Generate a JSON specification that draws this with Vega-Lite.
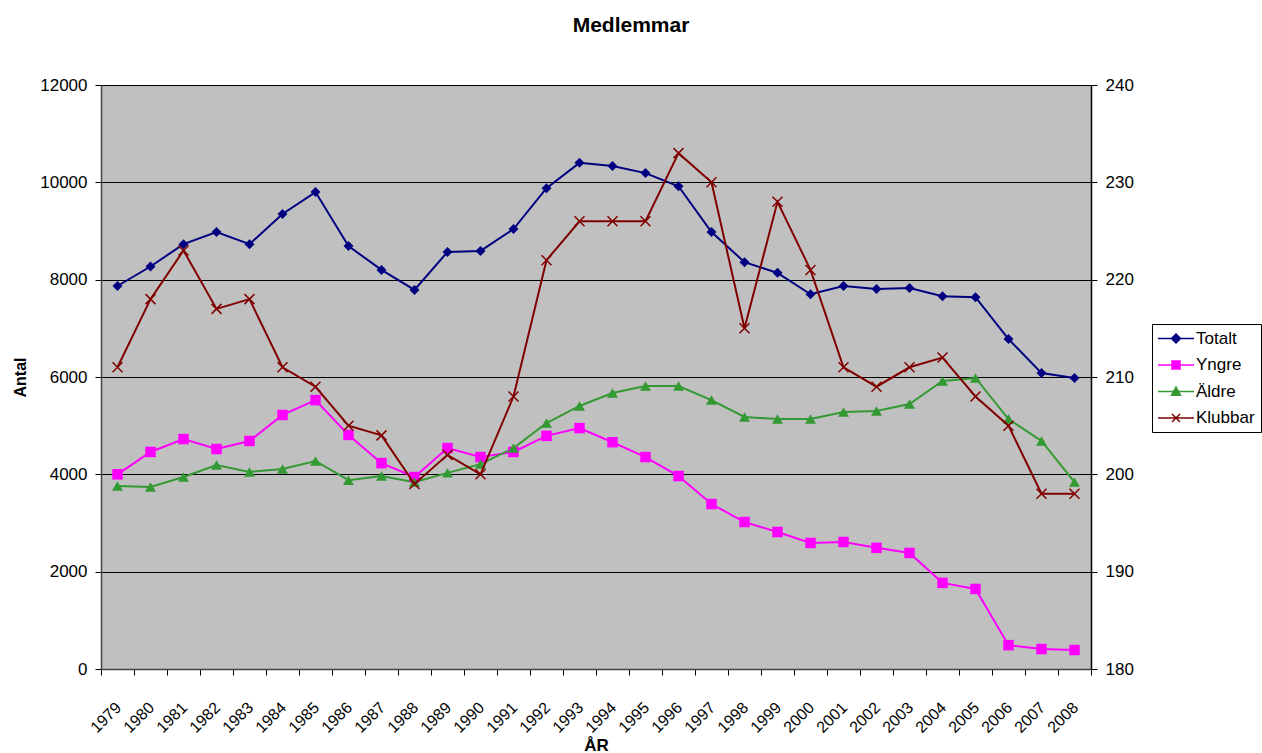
{
  "$schema": "https://vega.github.io/schema/vega-lite/v6.json",
  "autosize": {"type": "none"},
  "padding": {"left": 101, "top": 85, "right": 171, "bottom": 84},
  "width": 990,
  "height": 584,
  "background": "#ffffff",
  "config": {
    "view": {"fill": "#C0C0C0", "stroke": null},
    "font": "Liberation Sans",
    "axis": {"labelFont": "Liberation Sans", "titleFont": "Liberation Sans", "labelColor": "#000000", "titleColor": "#000000", "tickColor": "#000000"}
  },
  "title": {"text": "Medlemmar", "fontSize": 21, "fontWeight": "bold", "font": "Liberation Sans", "color": "#000000", "anchor": "middle", "dx": 35, "offset": 40, "frame": "group"},
  "data": {"values": [
    {"year": 1979, "series": "Totalt", "value": 7870}, {"year": 1980, "series": "Totalt", "value": 8270}, {"year": 1981, "series": "Totalt", "value": 8730}, {"year": 1982, "series": "Totalt", "value": 8980}, {"year": 1983, "series": "Totalt", "value": 8730}, {"year": 1984, "series": "Totalt", "value": 9350}, {"year": 1985, "series": "Totalt", "value": 9800}, {"year": 1986, "series": "Totalt", "value": 8690}, {"year": 1987, "series": "Totalt", "value": 8200}, {"year": 1988, "series": "Totalt", "value": 7790}, {"year": 1989, "series": "Totalt", "value": 8570}, {"year": 1990, "series": "Totalt", "value": 8590}, {"year": 1991, "series": "Totalt", "value": 9040}, {"year": 1992, "series": "Totalt", "value": 9880}, {"year": 1993, "series": "Totalt", "value": 10400}, {"year": 1994, "series": "Totalt", "value": 10335}, {"year": 1995, "series": "Totalt", "value": 10190}, {"year": 1996, "series": "Totalt", "value": 9920}, {"year": 1997, "series": "Totalt", "value": 8980}, {"year": 1998, "series": "Totalt", "value": 8360}, {"year": 1999, "series": "Totalt", "value": 8140}, {"year": 2000, "series": "Totalt", "value": 7700}, {"year": 2001, "series": "Totalt", "value": 7870}, {"year": 2002, "series": "Totalt", "value": 7810}, {"year": 2003, "series": "Totalt", "value": 7830}, {"year": 2004, "series": "Totalt", "value": 7660}, {"year": 2005, "series": "Totalt", "value": 7640}, {"year": 2006, "series": "Totalt", "value": 6780}, {"year": 2007, "series": "Totalt", "value": 6080}, {"year": 2008, "series": "Totalt", "value": 5980},
    {"year": 1979, "series": "Yngre", "value": 4000}, {"year": 1980, "series": "Yngre", "value": 4460}, {"year": 1981, "series": "Yngre", "value": 4725}, {"year": 1982, "series": "Yngre", "value": 4520}, {"year": 1983, "series": "Yngre", "value": 4685}, {"year": 1984, "series": "Yngre", "value": 5220}, {"year": 1985, "series": "Yngre", "value": 5525}, {"year": 1986, "series": "Yngre", "value": 4810}, {"year": 1987, "series": "Yngre", "value": 4230}, {"year": 1988, "series": "Yngre", "value": 3945}, {"year": 1989, "series": "Yngre", "value": 4540}, {"year": 1990, "series": "Yngre", "value": 4355}, {"year": 1991, "series": "Yngre", "value": 4460}, {"year": 1992, "series": "Yngre", "value": 4790}, {"year": 1993, "series": "Yngre", "value": 4950}, {"year": 1994, "series": "Yngre", "value": 4660}, {"year": 1995, "series": "Yngre", "value": 4355}, {"year": 1996, "series": "Yngre", "value": 3965}, {"year": 1997, "series": "Yngre", "value": 3390}, {"year": 1998, "series": "Yngre", "value": 3020}, {"year": 1999, "series": "Yngre", "value": 2815}, {"year": 2000, "series": "Yngre", "value": 2590}, {"year": 2001, "series": "Yngre", "value": 2610}, {"year": 2002, "series": "Yngre", "value": 2490}, {"year": 2003, "series": "Yngre", "value": 2385}, {"year": 2004, "series": "Yngre", "value": 1770}, {"year": 2005, "series": "Yngre", "value": 1645}, {"year": 2006, "series": "Yngre", "value": 490}, {"year": 2007, "series": "Yngre", "value": 410}, {"year": 2008, "series": "Yngre", "value": 390},
    {"year": 1979, "series": "Äldre", "value": 3760}, {"year": 1980, "series": "Äldre", "value": 3740}, {"year": 1981, "series": "Äldre", "value": 3945}, {"year": 1982, "series": "Äldre", "value": 4190}, {"year": 1983, "series": "Äldre", "value": 4050}, {"year": 1984, "series": "Äldre", "value": 4110}, {"year": 1985, "series": "Äldre", "value": 4275}, {"year": 1986, "series": "Äldre", "value": 3880}, {"year": 1987, "series": "Äldre", "value": 3965}, {"year": 1988, "series": "Äldre", "value": 3840}, {"year": 1989, "series": "Äldre", "value": 4030}, {"year": 1990, "series": "Äldre", "value": 4210}, {"year": 1991, "series": "Äldre", "value": 4540}, {"year": 1992, "series": "Äldre", "value": 5055}, {"year": 1993, "series": "Äldre", "value": 5405}, {"year": 1994, "series": "Äldre", "value": 5670}, {"year": 1995, "series": "Äldre", "value": 5815}, {"year": 1996, "series": "Äldre", "value": 5815}, {"year": 1997, "series": "Äldre", "value": 5525}, {"year": 1998, "series": "Äldre", "value": 5180}, {"year": 1999, "series": "Äldre", "value": 5135}, {"year": 2000, "series": "Äldre", "value": 5135}, {"year": 2001, "series": "Äldre", "value": 5280}, {"year": 2002, "series": "Äldre", "value": 5300}, {"year": 2003, "series": "Äldre", "value": 5445}, {"year": 2004, "series": "Äldre", "value": 5920}, {"year": 2005, "series": "Äldre", "value": 5980}, {"year": 2006, "series": "Äldre", "value": 5135}, {"year": 2007, "series": "Äldre", "value": 4685}, {"year": 2008, "series": "Äldre", "value": 3840},
    {"year": 1979, "series": "Klubbar", "value": 211}, {"year": 1980, "series": "Klubbar", "value": 218}, {"year": 1981, "series": "Klubbar", "value": 223}, {"year": 1982, "series": "Klubbar", "value": 217}, {"year": 1983, "series": "Klubbar", "value": 218}, {"year": 1984, "series": "Klubbar", "value": 211}, {"year": 1985, "series": "Klubbar", "value": 209}, {"year": 1986, "series": "Klubbar", "value": 205}, {"year": 1987, "series": "Klubbar", "value": 204}, {"year": 1988, "series": "Klubbar", "value": 199}, {"year": 1989, "series": "Klubbar", "value": 202}, {"year": 1990, "series": "Klubbar", "value": 200}, {"year": 1991, "series": "Klubbar", "value": 208}, {"year": 1992, "series": "Klubbar", "value": 222}, {"year": 1993, "series": "Klubbar", "value": 226}, {"year": 1994, "series": "Klubbar", "value": 226}, {"year": 1995, "series": "Klubbar", "value": 226}, {"year": 1996, "series": "Klubbar", "value": 233}, {"year": 1997, "series": "Klubbar", "value": 230}, {"year": 1998, "series": "Klubbar", "value": 215}, {"year": 1999, "series": "Klubbar", "value": 228}, {"year": 2000, "series": "Klubbar", "value": 221}, {"year": 2001, "series": "Klubbar", "value": 211}, {"year": 2002, "series": "Klubbar", "value": 209}, {"year": 2003, "series": "Klubbar", "value": 211}, {"year": 2004, "series": "Klubbar", "value": 212}, {"year": 2005, "series": "Klubbar", "value": 208}, {"year": 2006, "series": "Klubbar", "value": 205}, {"year": 2007, "series": "Klubbar", "value": 198}, {"year": 2008, "series": "Klubbar", "value": 198}
  ]},
  "encoding": {
    "x": {
      "field": "year", "type": "ordinal", "bandPosition": 0.5,
      "scale": {"type": "band", "paddingInner": 0, "paddingOuter": 0},
      "axis": {
        "title": "ÅR", "titleFontSize": 17, "titleFontWeight": "bold", "titleBaseline": "alphabetic", "titleY": 81,
        "labelAngle": -45, "labelAlign": "right", "labelBaseline": "top", "labelFontSize": 16, "labelPadding": 24, "labelOffset": -5,
        "tickBand": "extent", "tickSize": 6, "domainColor": "#444444", "domainWidth": 1.5, "grid": false
      }
    },
    "color": {"field": "series", "type": "nominal", "scale": {"domain": ["Totalt", "Yngre", "Äldre", "Klubbar"], "range": ["#000080", "#FF00FF", "#339933", "#800000"]},
      "legend": {"title": null, "orient": "none", "legendX": 1051, "legendY": 239, "fillColor": "#ffffff", "strokeColor": "#000000", "padding": 6, "labelFontSize": 17, "labelColor": "#000000", "symbolStrokeWidth": 1.5, "rowPadding": 8.5, "symbolSize": 100, "labelOffset": 21,
        "encode": {
          "symbols": {
            "update": {
              "shape": {"signal": "datum.value === 'Totalt' ? 'M-1.7,0H5.5M1.9,-0.9L2.8,0L1.9,0.9L1,0Z' : datum.value === 'Yngre' ? 'M-1.7,0H5.5M1.1,-0.8H2.7V0.8H1.1Z' : datum.value === 'Äldre' ? 'M-1.7,0H5.5M1.9,-0.9L2.8,0.75H1Z' : 'M-1.7,0H5.5M1.1,-0.8L2.7,0.8M1.1,0.8L2.7,-0.8'"}
            }
          }
        }
      }
    }
  },
  "layer": [
    {
      "transform": [{"filter": "datum.series !== 'Klubbar'"}],
      "encoding": {
        "y": {
          "field": "value", "type": "quantitative",
          "scale": {"domain": [0, 12000], "nice": false, "zero": false},
          "axis": {
            "title": "Antal", "titleFontSize": 16, "titleFontWeight": "bold", "titleX": -76, "titleY": 292, "titleAngle": -90, "titleBaseline": "alphabetic", "titleAlign": "center",
            "values": [0, 2000, 4000, 6000, 8000, 10000, 12000], "format": "d", "labelFontSize": 17, "labelPadding": 8, "tickSize": 6,
            "grid": true, "gridColor": "#000000", "gridWidth": 1, "gridOpacity": 1, "domainColor": "#444444", "domainWidth": 1.5
          }
        }
      },
      "layer": [
        {"mark": {"type": "line", "strokeWidth": 2}},
        {"transform": [{"filter": "datum.series === 'Totalt'"}], "mark": {"type": "point", "filled": true, "opacity": 1, "strokeWidth": 0, "shape": "diamond", "size": 100}},
        {"transform": [{"filter": "datum.series === 'Yngre'"}], "mark": {"type": "point", "filled": true, "opacity": 1, "strokeWidth": 0, "shape": "square", "size": 110}},
        {"transform": [{"filter": "datum.series === 'Äldre'"}], "mark": {"type": "point", "filled": true, "opacity": 1, "strokeWidth": 0, "shape": "triangle-up", "size": 120}}
      ]
    },
    {
      "transform": [{"filter": "datum.series === 'Klubbar'"}],
      "encoding": {
        "y": {
          "field": "value", "type": "quantitative",
          "scale": {"domain": [180, 240], "nice": false, "zero": false},
          "axis": {
            "orient": "right", "title": null, "values": [180, 190, 200, 210, 220, 230, 240], "format": "d",
            "labelFontSize": 17, "labelPadding": 8, "tickSize": 6, "grid": false, "domainColor": "#000000", "domainWidth": 1.5
          }
        }
      },
      "layer": [
        {"mark": {"type": "line", "strokeWidth": 2}},
        {"mark": {"type": "point", "filled": false, "opacity": 1, "strokeWidth": 1.5, "size": 100, "shape": "M-1,-1L1,1M-1,1L1,-1"}}
      ]
    }
  ],
  "resolve": {"scale": {"y": "independent"}}
}
